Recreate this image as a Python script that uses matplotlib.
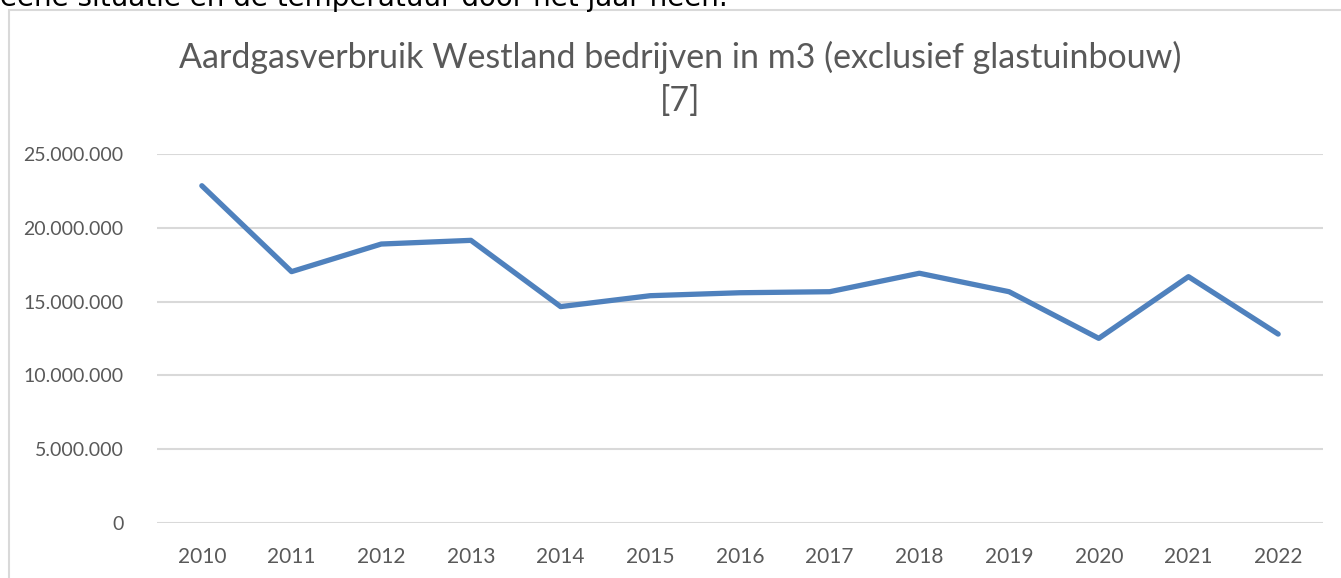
import matplotlib.pyplot as plt
from matplotlib.patches import Rectangle
from matplotlib.ticker import FuncFormatter

# Aardgasverbruik Westland bedrijven (m3), exclusief glastuinbouw
years = ["2010", "2011", "2012", "2013", "2014", "2015", "2016",
         "2017", "2018", "2019", "2020", "2021", "2022"]
verbruik = [22850000, 17030000, 18900000, 19150000, 14660000, 15400000, 15600000,
            15670000, 16920000, 15670000, 12510000, 16690000, 12800000]
y_ticks = [0, 5000000, 10000000, 15000000, 20000000, 25000000]

plt.rcParams['font.family'] = ['Lato', 'DejaVu Sans']

fig = plt.figure(figsize=(13.41, 5.78), dpi=100)

# chart frame (Excel chart area), cut off at right and bottom
fig.patches.append(Rectangle((8.5 / 1341, -0.1), 1.2, 1 - 10.5 / 578 + 0.1,
                             transform=fig.transFigure, fill=False,
                             edgecolor="#d9d9d9", linewidth=1.5))

# remnant of the document text above the chart
fig.text(0.0, 1 - 6 / 578, "eene situatie en de temperatuur door het jaar heen.",
         fontsize=20, color="black", family="DejaVu Sans",
         ha="left", va="baseline")

ax = fig.add_axes([157 / 1341, 1 - 523 / 578, (1323 - 157) / 1341, (523 - 154) / 578])
x = range(len(years))
ax.plot(x, verbruik, color="#4f81bd", linewidth=3.8, solid_capstyle="round",
        solid_joinstyle="round")

ax.set_xlim(-0.5, len(years) - 0.5)
ax.set_ylim(0, 25000000)
ax.set_yticks(y_ticks)
ax.yaxis.set_major_formatter(FuncFormatter(lambda v, p: f"{int(v):,}".replace(",", ".")))
ax.set_xticks(list(x))
ax.set_xticklabels(years)
ax.tick_params(length=0, labelsize=14, colors="#595959")
ax.tick_params(axis="x", labelsize=15, pad=17)
ax.tick_params(axis="y", pad=24)
ax.grid(axis="y", color="#d9d9d9", linewidth=1.5)
ax.set_axisbelow(True)
for s in ax.spines.values():
    s.set_visible(False)

fig.text(680 / 1341, 1 - 57 / 578,
         "Aardgasverbruik Westland bedrijven in m3 (exclusief glastuinbouw)",
         fontsize=24.5, color="#595959", ha="center", va="center")
fig.text(680 / 1341, 1 - 101 / 578, "[7]",
         fontsize=24.5, color="#595959", ha="center", va="center")

fig.savefig("out.png", dpi=100)
